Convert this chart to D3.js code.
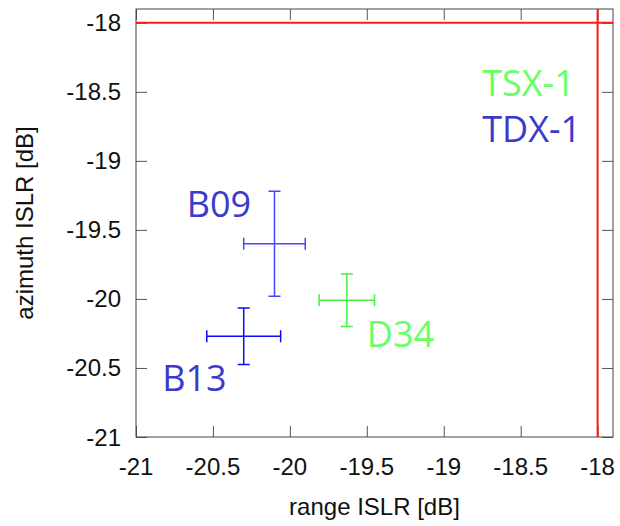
<!DOCTYPE html>
<html>
<head>
  <meta charset="utf-8">
  <title>ISLR</title>
  <script src="https://d3js.org/d3.v7.min.js"></script>
  <style>
    body { margin: 0; background: #fff; }
  </style>
</head>
<body>
  <script>
    // measurements: range ISLR (x) and azimuth ISLR (y) with error bars
    var names = ['B09', 'B13', 'D34'];
    var rangeIslr = [-20.1, -20.3, -19.63];
    var rangeErr = [0.2, 0.24, 0.18];
    var azIslr = [-19.6, -20.27, -20.01];
    var azErr = [0.38, 0.205, 0.19];
    var series = ['TDX-1', 'TDX-1', 'TSX-1'];
    // label anchors in data coordinates
    var labelX = [-20.67, -20.83, -19.5];
    var labelY = [-19.41, -20.67, -20.35];
    var legendNames = ['TSX-1', 'TDX-1'];
    var tickValues = [-21, -20.5, -20, -19.5, -19, -18.5, -18];
    var limit = -18;

    var width = 620, height = 526;
    var margin = { left: 136, right: 7, top: 9, bottom: 89 };

    var svg = d3.select('body').append('svg')
      .attr('width', width)
      .attr('height', height);

    var x = d3.scaleLinear().domain([-21, -17.9]).range([margin.left, width - margin.right]);
    var y = d3.scaleLinear().domain([-21, -17.9]).range([height - margin.bottom, margin.top]);

    var barColor = { 'B09': '#4646ff', 'B13': '#0a0aff', 'D34': '#44f044' };
    var textColor = { 'TDX-1': '#3a3acc', 'TSX-1': '#66ff66' };

    var fmt = function(d) { return String(d); };
    var tickLen = 11;
    var axisFont = 'Liberation Sans, Arial, sans-serif';

    // inward ticks on all four sides
    var gb = svg.append('g').attr('transform', 'translate(0,' + y(-21) + ')')
      .call(d3.axisTop(x).tickValues(tickValues).tickSize(tickLen).tickFormat(''));
    var gt = svg.append('g').attr('transform', 'translate(0,' + y(-17.9) + ')')
      .call(d3.axisBottom(x).tickValues(tickValues).tickSize(tickLen).tickFormat(''));
    var gl = svg.append('g').attr('transform', 'translate(' + x(-21) + ',0)')
      .call(d3.axisRight(y).tickValues(tickValues).tickSize(tickLen).tickFormat(''));
    var gr = svg.append('g').attr('transform', 'translate(' + x(-17.9) + ',0)')
      .call(d3.axisLeft(y).tickValues(tickValues).tickSize(tickLen).tickFormat(''));
    [gb, gt, gl, gr].forEach(function(g) {
      g.select('.domain').remove();
      g.selectAll('.tick line').attr('stroke', '#555').attr('stroke-width', 1);
    });

    // tick labels
    svg.append('g').selectAll('text')
      .data(tickValues).enter().append('text')
      .attr('x', function(d) { return x(d); })
      .attr('y', 475)
      .attr('text-anchor', 'middle')
      .attr('font-family', axisFont)
      .attr('font-size', 24)
      .attr('fill', '#111')
      .text(fmt);
    svg.append('g').selectAll('text')
      .data(tickValues).enter().append('text')
      .attr('x', 121)
      .attr('y', function(d) { return y(d) + 8.5; })
      .attr('text-anchor', 'end')
      .attr('font-family', axisFont)
      .attr('font-size', 24)
      .attr('fill', '#111')
      .text(fmt);

    // frame
    svg.append('rect')
      .attr('x', x(-21)).attr('y', y(-17.9))
      .attr('width', x(-17.9) - x(-21))
      .attr('height', y(-21) - y(-17.9))
      .attr('fill', 'none')
      .attr('stroke', '#444')
      .attr('stroke-width', 1);

    // limit lines
    svg.append('line')
      .attr('x1', x(-21)).attr('x2', x(-17.9))
      .attr('y1', y(limit)).attr('y2', y(limit))
      .attr('stroke', '#ff1a1a').attr('stroke-width', 2);
    svg.append('line')
      .attr('x1', x(limit)).attr('x2', x(limit))
      .attr('y1', y(-21)).attr('y2', y(-17.9))
      .attr('stroke', '#ff1a1a').attr('stroke-width', 2);

    // error bars
    var cap = 6;
    var pts = names.map(function(n, i) {
      return { name: n, x: rangeIslr[i], xe: rangeErr[i], y: azIslr[i], ye: azErr[i] };
    });
    var eb = svg.append('g').selectAll('g').data(pts).enter().append('g')
      .attr('stroke', function(d) { return barColor[d.name]; })
      .attr('stroke-width', 1.5)
      .attr('fill', 'none');
    eb.append('path').attr('d', function(d) {
      var cx = x(d.x), cy = y(d.y);
      var x0 = x(d.x - d.xe), x1 = x(d.x + d.xe);
      var y0 = y(d.y + d.ye), y1 = y(d.y - d.ye);
      return 'M' + x0 + ',' + cy + 'H' + x1 +
        'M' + x0 + ',' + (cy - cap) + 'V' + (cy + cap) +
        'M' + x1 + ',' + (cy - cap) + 'V' + (cy + cap) +
        'M' + cx + ',' + y0 + 'V' + y1 +
        'M' + (cx - cap) + ',' + y0 + 'H' + (cx + cap) +
        'M' + (cx - cap) + ',' + y1 + 'H' + (cx + cap);
    });

    // point labels
    svg.append('g').selectAll('text')
      .data(names).enter().append('text')
      .attr('x', function(d, i) { return x(labelX[i]); })
      .attr('y', function(d, i) { return y(labelY[i]); })
      .attr('font-family', 'Open Sans, Noto Sans, sans-serif')
      .attr('font-size', 36)
      .attr('fill', function(d, i) { return textColor[series[i]]; })
      .text(function(d) { return d; });

    // legend text
    svg.append('g').selectAll('text')
      .data(legendNames).enter().append('text')
      .attr('x', x(-18.75))
      .attr('y', function(d, i) { return y(-18.53 - i * 0.333); })
      .attr('font-family', 'Open Sans, Noto Sans, sans-serif')
      .attr('font-size', 36)
      .attr('fill', function(d) { return textColor[d]; })
      .text(function(d) { return d; });

    // axis titles
    svg.append('text')
      .attr('x', (x(-21) + x(-17.9)) / 2)
      .attr('y', 515)
      .attr('text-anchor', 'middle')
      .attr('font-family', axisFont)
      .attr('font-size', 24)
      .attr('fill', '#111')
      .text('range ISLR [dB]');
    svg.append('text')
      .attr('transform', 'translate(33,' + (y(-21) + y(-17.9)) / 2 + ') rotate(-90)')
      .attr('text-anchor', 'middle')
      .attr('font-family', axisFont)
      .attr('font-size', 24)
      .attr('fill', '#111')
      .text('azimuth ISLR [dB]');
  </script>
</body>
</html>
